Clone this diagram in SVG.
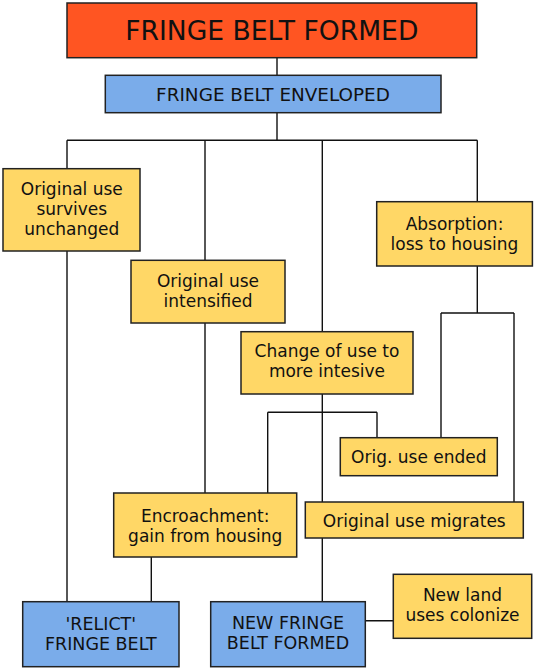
<svg xmlns="http://www.w3.org/2000/svg" width="536" height="670" viewBox="0 0 536 670">
<style>
.box{stroke:#222;stroke-width:1.5}
.red{fill:#FF5522}
.blue{fill:#7AACEA}
.yel{fill:#FFD766}
.c{fill:none;stroke:#111;stroke-width:1.4}
text{font-family:"DejaVu Sans","Verdana",sans-serif;fill:#111;text-anchor:middle}
.t{font-size:17px}
.b{font-size:17.5px}
</style>
<rect width="536" height="670" fill="#fff"/>
<g id="connectors">
<path class="c" d="M277 57.7V75.3M277 112.7V140.3M67 140.3H477.3M67 140.3V601.7M205 140.3V493M322.3 140.3V601.7M477.3 140.3V313M441 313H514M441 313V437.7M514 313V502M267.7 412.3H377M267.7 412.3V493M377 412.3V437.7M151.3 557V601.7M365.3 620.7H393.3"/>
</g>
<g id="n-formed"><rect class="box red" x="67" y="3" width="409.7" height="54.7"/><text x="271.8" y="39.5" style="font-size:26.6px">FRINGE BELT FORMED</text></g>
<g id="n-enveloped"><rect class="box blue" x="105.3" y="75.3" width="335.7" height="37.4"/><text x="273" y="101" style="font-size:18.4px">FRINGE BELT ENVELOPED</text></g>
<g id="n-survives"><rect class="box yel" x="3" y="168.7" width="137" height="82.3"/><text class="t"><tspan x="71.8" y="194.5">Original use</tspan><tspan x="71.8" y="214.5">survives</tspan><tspan x="71.8" y="234.5">unchanged</tspan></text></g>
<g id="n-intensified"><rect class="box yel" x="131" y="260.3" width="154" height="62.7"/><text class="t"><tspan x="208" y="287">Original use</tspan><tspan x="208" y="307">intensified</tspan></text></g>
<g id="n-absorption"><rect class="box yel" x="376.7" y="201.7" width="155.7" height="64.3"/><text class="t"><tspan x="454.5" y="230.3">Absorption:</tspan><tspan x="454.5" y="249.8">loss to housing</tspan></text></g>
<g id="n-change"><rect class="box yel" x="241" y="331.7" width="172" height="62.3"/><text class="t"><tspan x="327" y="357.2">Change of use to</tspan><tspan x="327" y="377.2">more intesive</tspan></text></g>
<g id="n-ended"><rect class="box yel" x="340.3" y="437.7" width="157" height="38"/><text class="t" x="418.8" y="463">Orig. use ended</text></g>
<g id="n-encroachment"><rect class="box yel" x="113.7" y="493" width="183" height="64"/><text class="t"><tspan x="205.2" y="522">Encroachment:</tspan><tspan x="205.2" y="542">gain from housing</tspan></text></g>
<g id="n-migrates"><rect class="box yel" x="305.3" y="502" width="218" height="36"/><text class="t" x="414.3" y="527">Original use migrates</text></g>
<g id="n-relict"><rect class="box blue" x="22.7" y="601.7" width="156.3" height="65"/><text class="b"><tspan x="100.8" y="629.5">'RELICT'</tspan><tspan x="100.8" y="649.5">FRINGE BELT</tspan></text></g>
<g id="n-newbelt"><rect class="box blue" x="210.7" y="601.7" width="154.6" height="65"/><text class="b"><tspan x="288" y="629">NEW FRINGE</tspan><tspan x="288" y="649.3">BELT FORMED</tspan></text></g>
<g id="n-newland"><rect class="box yel" x="393.3" y="574.3" width="138.4" height="64"/><text class="t"><tspan x="462.5" y="600.7">New land</tspan><tspan x="462.5" y="621.2">uses colonize</tspan></text></g>
</svg>
